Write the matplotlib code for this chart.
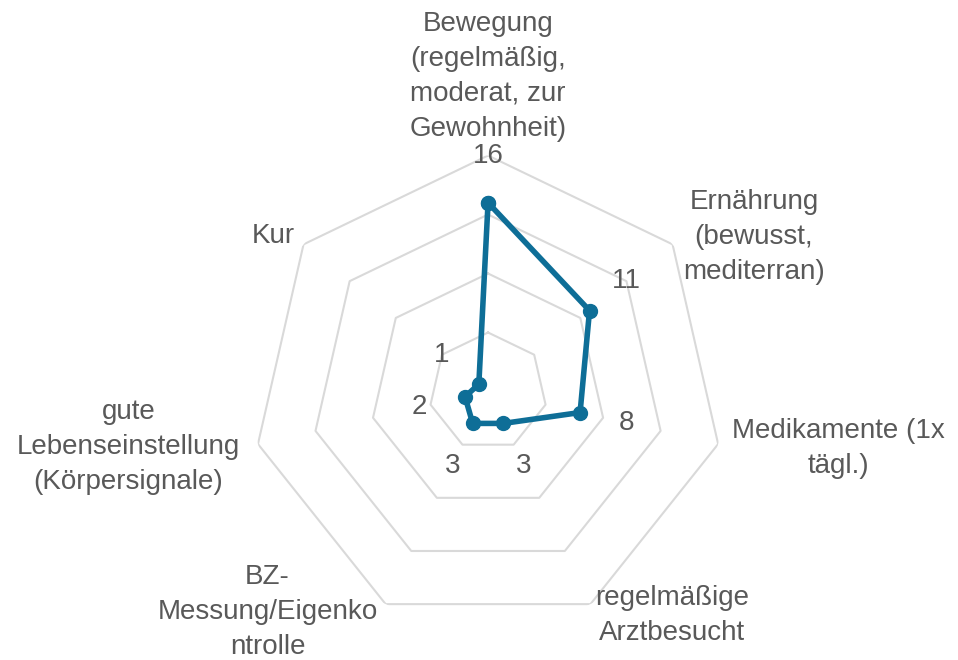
import numpy as np
import matplotlib
matplotlib.use("Agg")
import matplotlib.pyplot as plt

# data
categories = [
    "Bewegung\n(regelmäßig,\nmoderat, zur\nGewohnheit)",
    "Ernährung\n(bewusst,\nmediterran)",
    "Medikamente (1x\ntägl.)",
    "regelmäßige\nArztbesucht",
    "BZ-\nMessung/Eigenko\nntrolle",
    "gute\nLebenseinstellung\n(Körpersignale)",
    "Kur",
]
values = [16, 11, 8, 3, 3, 2, 1]
ring_levels = [5, 10, 15, 20]

col_line = "#0E6E97"
col_text = "#595959"
col_grid = "#D9D9D9"
plt.rcParams['font.family'] = ['Liberation Sans', 'DejaVu Sans']

n = len(categories)
theta = np.arange(n) * 2 * np.pi / n

fig = plt.figure(figsize=(9.58, 6.6), dpi=100)
ax = fig.add_axes([0.2631, 0.0492, 0.4927, 0.7152], projection="polar")
ax.set_theta_offset(np.pi / 2)
ax.set_theta_direction(-1)
ax.set_ylim(0, 20)
ax.grid(False)
ax.spines["polar"].set_visible(False)
ax.set_xticks([])
ax.set_yticks([])
ax.patch.set_alpha(0)

th_closed = np.append(theta, theta[0])
for lv in ring_levels:
    ax.plot(th_closed, [lv] * (n + 1), color=col_grid, lw=1.5, zorder=1)

v_closed = values + values[:1]
ax.plot(th_closed, v_closed, color=col_line, lw=4, marker="o", ms=10,
        zorder=3, clip_on=False)

# value labels
for t, v in zip(theta, values):
    ax.text(t, v + 4, str(v), ha="center", va="center", fontsize=20,
            color=col_text)

# category labels: (ha, dx px, dy px) relative to outer vertex
label_pos = [
    ("center", 0, 79.5),
    ("left", 10.5, 7.5),
    ("left", 14, -4),
    ("left", 5, -11),
    ("right", -8, -8),
    ("right", -18, -3),
    ("right", -8.5, 8.5),
]
for t, lab, (ha, dx, dy) in zip(theta, categories, label_pos):
    ax.annotate(lab, xy=(t, 20), xytext=(dx * 0.72, dy * 0.72),
                textcoords="offset points", ha=ha, va="center",
                multialignment="center", fontsize=20, color=col_text,
                linespacing=1.45, annotation_clip=False)

fig.savefig("out.png", dpi=100)
